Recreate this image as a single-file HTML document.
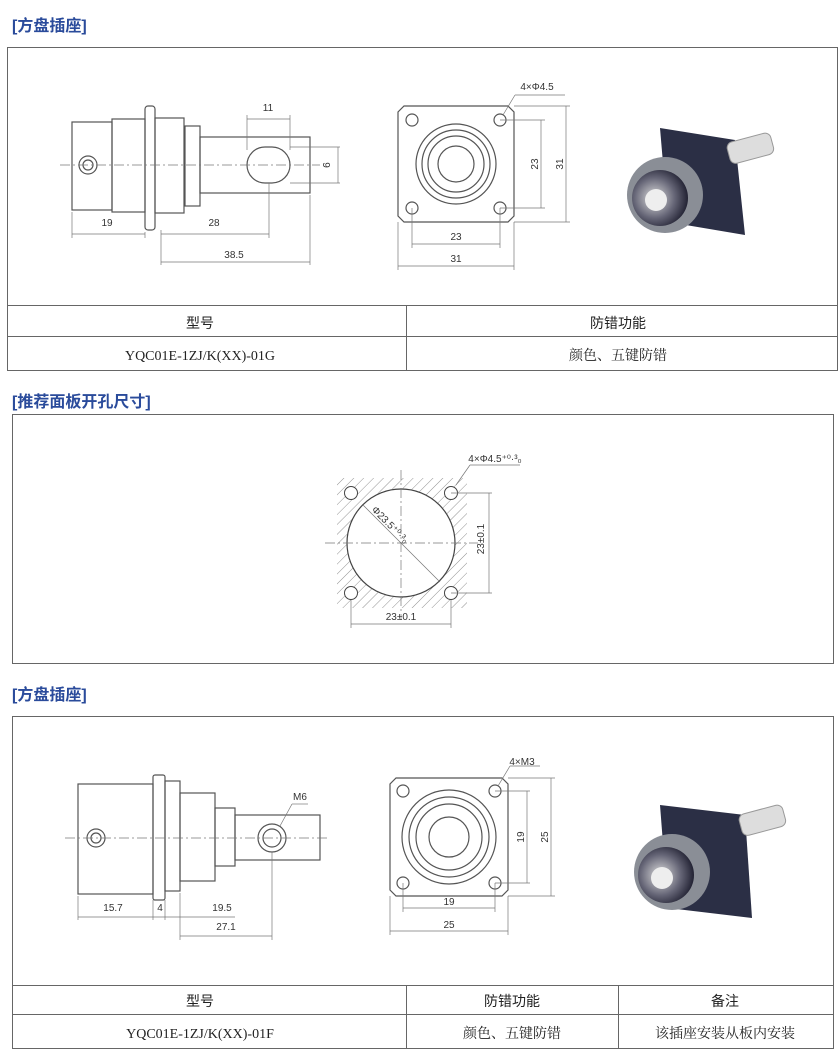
<!DOCTYPE html>
<html><head><meta charset="utf-8"><style>
body{margin:0;background:#fff;width:840px;height:1060px;overflow:hidden;position:relative;font-family:"Liberation Sans","Noto Sans CJK SC",sans-serif}
.t{position:absolute;color:#2a4b9b;font-size:16px;font-weight:bold;left:12px}
svg{position:absolute;left:0;top:0}
</style></head><body>
<div class="t" style="top:12px">[方盘插座]</div>
<div class="t" style="top:388px">[推荐面板开孔尺寸]</div>
<div class="t" style="top:681px">[方盘插座]</div>
<svg width="840" height="1060" font-family="Liberation Sans, Noto Sans CJK SC, sans-serif">
<defs>
<pattern id="h" width="7" height="7" patternUnits="userSpaceOnUse" patternTransform="rotate(45)"><line x1="0" y1="0" x2="0" y2="7" stroke="#777" stroke-width="0.8"/></pattern>
<radialGradient id="g" cx="0.4" cy="0.5" r="0.6"><stop offset="0" stop-color="#ddd"/><stop offset="0.6" stop-color="#667"/><stop offset="1" stop-color="#223"/></radialGradient>
</defs>
<g fill="none" stroke="#666" stroke-width="1">
<!-- box 1 -->
<rect x="7.5" y="47.5" width="830" height="323"/>
<line x1="7" y1="305.5" x2="838" y2="305.5"/><line x1="7" y1="336.5" x2="838" y2="336.5"/><line x1="406.5" y1="305" x2="406.5" y2="370"/>
<!-- box 2 -->
<rect x="12.5" y="414.5" width="821" height="249"/>
<!-- box 3 -->
<rect x="12.5" y="716.5" width="821" height="332"/>
<line x1="12" y1="985.5" x2="834" y2="985.5"/><line x1="12" y1="1014.5" x2="834" y2="1014.5"/><line x1="406.5" y1="985" x2="406.5" y2="1048"/><line x1="618.5" y1="985" x2="618.5" y2="1048"/>
</g>
<g font-size="14" text-anchor="middle" fill="#222">
<text x="200" y="328">型号</text><text x="618" y="328">防错功能</text>
<text x="200" y="360" font-family="Liberation Serif,serif">YQC01E-1ZJ/K(XX)-01G</text><text x="618" y="360" font-family="Liberation Serif, Noto Serif CJK SC,serif">颜色、五键防错</text>
<text x="200" y="1006">型号</text><text x="512" y="1006">防错功能</text><text x="725" y="1006">备注</text>
<text x="200" y="1038" font-family="Liberation Serif,serif">YQC01E-1ZJ/K(XX)-01F</text><text x="512" y="1038" font-family="Liberation Serif, Noto Serif CJK SC,serif">颜色、五键防错</text><text x="725" y="1038" font-family="Liberation Serif, Noto Serif CJK SC,serif">该插座安装从板内安装</text>
</g>
<!-- side view 1 -->
<g fill="none" stroke="#555" stroke-width="1.2">
<rect x="72" y="122" width="40" height="88"/><rect x="112" y="119" width="33" height="93"/>
<rect x="145" y="106" width="10" height="124" rx="3"/><rect x="155" y="118" width="29" height="95"/>
<rect x="185" y="126" width="15" height="80"/><rect x="200" y="137" width="110" height="56"/>
<rect x="247" y="147" width="43" height="36" rx="18"/>
<circle cx="88" cy="165" r="9"/><circle cx="88" cy="165" r="5"/>
</g>
<g stroke="#777" stroke-width="0.7" fill="none">
<line x1="60" y1="165" x2="320" y2="165" stroke-dasharray="10 3 2 3"/>
<line x1="72" y1="212" x2="72" y2="238"/><line x1="145" y1="232" x2="145" y2="238"/><line x1="72" y1="234" x2="145" y2="234"/>
<line x1="161" y1="230" x2="161" y2="265"/><line x1="269" y1="183" x2="269" y2="238"/><line x1="161" y1="234" x2="269" y2="234"/>
<line x1="310" y1="195" x2="310" y2="265"/><line x1="161" y1="262" x2="310" y2="262"/>
<line x1="247" y1="115" x2="247" y2="150"/><line x1="290" y1="115" x2="290" y2="150"/><line x1="247" y1="119" x2="290" y2="119"/>
<line x1="290" y1="147" x2="340" y2="147"/><line x1="290" y1="183" x2="340" y2="183"/><line x1="338" y1="147" x2="338" y2="183"/>
</g>
<g font-size="10" fill="#333" text-anchor="middle"><text x="107" y="226">19</text><text x="214" y="226">28</text><text x="234" y="258">38.5</text><text x="268" y="111">11</text><text x="326" y="168" transform="rotate(90 326 165)">9</text></g>
<!-- front view 1 -->
<g fill="none" stroke="#555" stroke-width="1.2">
<path d="M404 106H508L514 112V216L508 222H404L398 216V112Z"/>
<circle cx="456" cy="164" r="40"/><circle cx="456" cy="164" r="34"/><circle cx="456" cy="164" r="28"/><circle cx="456" cy="164" r="18"/>
<circle cx="412" cy="120" r="6"/><circle cx="500" cy="120" r="6"/><circle cx="412" cy="208" r="6"/><circle cx="500" cy="208" r="6"/>
</g>
<g stroke="#777" stroke-width="0.7" fill="none">
<line x1="412" y1="208" x2="412" y2="248"/><line x1="500" y1="208" x2="500" y2="248"/><line x1="412" y1="244" x2="500" y2="244"/>
<line x1="398" y1="222" x2="398" y2="270"/><line x1="514" y1="222" x2="514" y2="270"/><line x1="398" y1="266" x2="514" y2="266"/>
<line x1="500" y1="120" x2="545" y2="120"/><line x1="500" y1="208" x2="545" y2="208"/><line x1="541" y1="120" x2="541" y2="208"/>
<line x1="514" y1="106" x2="570" y2="106"/><line x1="514" y1="222" x2="570" y2="222"/><line x1="566" y1="106" x2="566" y2="222"/>
<line x1="503" y1="115" x2="515" y2="95"/><line x1="515" y1="95" x2="565" y2="95"/>
</g>
<g font-size="10" fill="#333" text-anchor="middle"><text x="456" y="240">23</text><text x="456" y="262">31</text><text x="537" y="90">4×Φ4.5</text>
<text x="534" y="168" transform="rotate(-90 534 164)">23</text><text x="559" y="168" transform="rotate(-90 559 164)">31</text></g>
<!-- photo 1 -->
<g>
<path d="M660 128L735 140L745 235L668 222Z" fill="#2b2f45"/>
<rect x="728" y="140" width="45" height="22" rx="6" fill="#ddd" stroke="#999" transform="rotate(-15 740 150)"/>
<circle cx="665" cy="195" r="38" fill="#8a8e96"/><circle cx="660" cy="198" r="28" fill="url(#g)"/><circle cx="656" cy="200" r="11" fill="#eee"/>
</g>
<!-- panel cutout -->
<g>
<rect x="337" y="478" width="130" height="130" fill="url(#h)"/>
<circle cx="401" cy="543" r="54" fill="#fff" stroke="#444" stroke-width="1.2"/>
<g fill="#fff" stroke="#444" stroke-width="1"><circle cx="351" cy="493" r="6.5"/><circle cx="451" cy="493" r="6.5"/><circle cx="351" cy="593" r="6.5"/><circle cx="451" cy="593" r="6.5"/></g>
<g stroke="#777" stroke-width="0.7" fill="none">
<line x1="325" y1="543" x2="478" y2="543" stroke-dasharray="10 3 2 3"/><line x1="401" y1="470" x2="401" y2="620" stroke-dasharray="10 3 2 3"/>
<line x1="363" y1="505" x2="440" y2="582"/>
<line x1="451" y1="493" x2="492" y2="493"/><line x1="451" y1="593" x2="492" y2="593"/><line x1="489" y1="493" x2="489" y2="593"/>
<line x1="351" y1="600" x2="351" y2="628"/><line x1="451" y1="600" x2="451" y2="628"/><line x1="351" y1="624" x2="451" y2="624"/>
<line x1="456" y1="485" x2="470" y2="465"/><line x1="470" y1="465" x2="520" y2="465"/>
</g>
<g font-size="10" fill="#333" text-anchor="middle"><text x="401" y="620">23±0.1</text><text x="495" y="462">4×Φ4.5⁺⁰·³₀</text>
<text x="484" y="547" transform="rotate(-90 480 543)">23±0.1</text><text x="390" y="528" transform="rotate(45 390 525)">Φ23.5⁺⁰·³₀</text></g>
</g>
<!-- side view 2 -->
<g fill="none" stroke="#555" stroke-width="1.2">
<rect x="78" y="784" width="75" height="110"/><rect x="153" y="775" width="12" height="125" rx="2"/>
<rect x="165" y="781" width="15" height="110"/><rect x="180" y="793" width="35" height="88"/>
<rect x="215" y="808" width="20" height="58"/><rect x="235" y="815" width="85" height="45"/>
<circle cx="272" cy="838" r="14"/><circle cx="272" cy="838" r="9"/>
<circle cx="96" cy="838" r="9"/><circle cx="96" cy="838" r="5"/>
</g>
<g stroke="#777" stroke-width="0.7" fill="none">
<line x1="65" y1="838" x2="330" y2="838" stroke-dasharray="10 3 2 3"/>
<line x1="78" y1="896" x2="78" y2="920"/><line x1="153" y1="900" x2="153" y2="920"/><line x1="165" y1="900" x2="165" y2="920"/><line x1="78" y1="917" x2="235" y2="917"/>
<line x1="180" y1="893" x2="180" y2="940"/><line x1="272" y1="852" x2="272" y2="940"/><line x1="180" y1="936" x2="272" y2="936"/>
<line x1="280" y1="826" x2="292" y2="804"/><line x1="292" y1="804" x2="308" y2="804"/>
</g>
<g font-size="10" fill="#333" text-anchor="middle"><text x="113" y="911">15.7</text><text x="160" y="911">4</text><text x="222" y="911">19.5</text><text x="226" y="930">27.1</text><text x="300" y="800">M6</text></g>
<!-- front view 2 -->
<g fill="none" stroke="#555" stroke-width="1.2">
<path d="M396 778H502L508 784V890L502 896H396L390 890V784Z"/>
<circle cx="449" cy="837" r="47"/><circle cx="449" cy="837" r="40"/><circle cx="449" cy="837" r="33"/><circle cx="449" cy="837" r="20"/>
<circle cx="403" cy="791" r="6"/><circle cx="495" cy="791" r="6"/><circle cx="403" cy="883" r="6"/><circle cx="495" cy="883" r="6"/>
</g>
<g stroke="#777" stroke-width="0.7" fill="none">
<line x1="403" y1="883" x2="403" y2="912"/><line x1="495" y1="883" x2="495" y2="912"/><line x1="403" y1="908" x2="495" y2="908"/>
<line x1="390" y1="896" x2="390" y2="935"/><line x1="508" y1="896" x2="508" y2="935"/><line x1="390" y1="931" x2="508" y2="931"/>
<line x1="495" y1="791" x2="530" y2="791"/><line x1="495" y1="883" x2="530" y2="883"/><line x1="527" y1="791" x2="527" y2="883"/>
<line x1="508" y1="778" x2="555" y2="778"/><line x1="508" y1="896" x2="555" y2="896"/><line x1="551" y1="778" x2="551" y2="896"/>
<line x1="498" y1="786" x2="510" y2="766"/><line x1="510" y1="766" x2="540" y2="766"/>
</g>
<g font-size="10" fill="#333" text-anchor="middle"><text x="449" y="905">19</text><text x="449" y="928">25</text><text x="522" y="765">4×M3</text>
<text x="520" y="841" transform="rotate(-90 520 837)">19</text><text x="544" y="841" transform="rotate(-90 544 837)">25</text></g>
<!-- photo 2 -->
<g>
<path d="M660 805L745 815L752 918L668 908Z" fill="#2b2f45"/>
<rect x="740" y="812" width="45" height="22" rx="6" fill="#ddd" stroke="#999" transform="rotate(-15 752 822)"/>
<circle cx="672" cy="872" r="38" fill="#8a8e96"/><circle cx="666" cy="875" r="28" fill="url(#g)"/><circle cx="662" cy="878" r="11" fill="#eee"/>
</g>
</svg>
</body></html>
